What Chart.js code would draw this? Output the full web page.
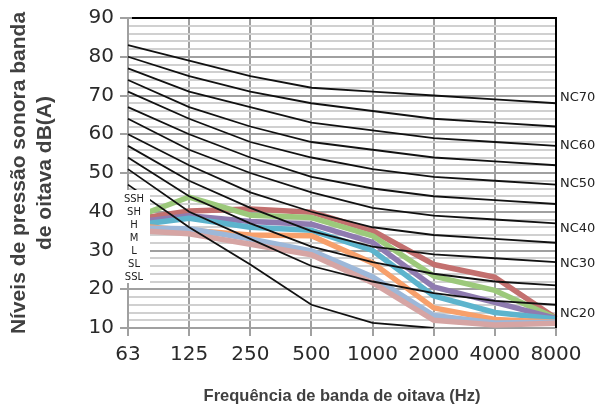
<!DOCTYPE html>
<html>
<head>
<meta charset="utf-8">
<script src="https://cdn.jsdelivr.net/npm/chart.js@4.4.1/dist/chart.umd.min.js"></script>
<style>
  html, body { margin: 0; padding: 0; background: #fff; }
  canvas { display: block; }
</style>
</head>
<body>
<canvas id="ncChart" width="608" height="412"></canvas>
<script>
// Octave band centre frequencies (Hz)
const bands = ['63', '125', '250', '500', '1000', '2000', '4000', '8000'];

// NC reference curves
const nc70 = [83, 79, 75, 72, 71, 70, 69, 68];
const nc65 = [80, 75, 71, 68, 66, 64, 63, 62];
const nc60 = [77, 71, 67, 63, 61, 59, 58, 57];
const nc55 = [74, 67, 62, 58, 56, 54, 53, 52];
const nc50 = [71, 64, 58, 54, 51, 49, 48, 47];
const nc45 = [67, 60, 54, 49, 46, 44, 43, 42];
const nc40 = [64, 56, 50, 45, 41, 39, 38, 37];
const nc35 = [60, 52, 45, 40, 36, 34, 33, 32];
const nc30 = [57, 48, 41, 35, 31, 29, 28, 27];
const nc25 = [54, 44, 37, 31, 27, 24, 22, 21];
const nc20 = [51, 40, 33, 26, 22, 19, 17, 16];
const nc15 = [47, 36, 26.4, 16, 11.3, 10, null, null];

// Measured spectra
const ssh = [37.8, 40.2, 40.7, 39.9, 35.1, 26.4, 23.1, 12.5];
const sh  = [37.9, 43.8, 39.1, 38.5, 33.8, 23.4, 19.7, 12.5];
const h   = [37.1, 39.0, 37.5, 36.8, 32.1, 20.6, 16.6, 12.5];
const m   = [36.3, 38.3, 36.0, 35.2, 30.0, 18.3, 14.0, 12.3];
const l   = [36.5, 35.2, 34.0, 33.8, 26.8, 15.2, 12.2, 11.5];
const sl  = [35.8, 35.6, 33.0, 29.9, 23.2, 13.2, 11.3, 11.5];
const ssl = [35.3, 34.3, 31.6, 28.9, 21.7, 12.0, 10.8, 11.2];

const seriesNames = ['SSH', 'SH', 'H', 'M', 'L', 'SL', 'SSL'];
const seriesData = [ssh, sh, h, m, l, sl, ssl];
const seriesColors = ['#c3706f', '#9cc97b', '#8f7bb0', '#5db4cd', '#f7a06b', '#9db8d9', '#d6a5a4'];

const ncCurves = [nc70, nc65, nc60, nc55, nc50, nc45, nc40, nc35, nc30, nc25, nc20, nc15];
const ncLabels = ['NC70', 'NC60', 'NC50', 'NC40', 'NC30', 'NC20'];
const ncLabelLevels = [69.5, 57, 47.3, 35.6, 26.5, 13.8];

const datasets = [];
ncCurves.forEach(function(curve) {
    datasets.push({
        data: curve,
        borderColor: '#111',
        borderWidth: 1.8,
        pointRadius: 0,
        order: 0
    });
});
// Later series sit on top, like in the spreadsheet
seriesData.forEach(function(values, i) {
    datasets.push({
        label: seriesNames[i],
        data: values,
        borderColor: seriesColors[i],
        borderWidth: 5.5,
        borderJoinStyle: 'round',
        pointRadius: 0,
        order: seriesData.length - i
    });
});

// Plot frame, NC labels and the series name box
const overlay = {
    id: 'overlay',
    afterDraw(chart) {
        const { ctx, chartArea: a, scales: { y } } = chart;
        ctx.save();

        ctx.strokeStyle = '#000';
        ctx.lineWidth = 2;
        ctx.beginPath();
        ctx.moveTo(a.left + 4, a.top);
        ctx.lineTo(a.right, a.top);
        ctx.lineTo(a.right, a.bottom);
        ctx.stroke();

        ctx.fillStyle = '#222';
        ctx.font = '13px "DejaVu Sans"';
        ctx.textAlign = 'left';
        ctx.textBaseline = 'middle';
        ncLabels.forEach(function(txt, i) {
            ctx.fillText(txt, a.right + 4, y.getPixelForValue(ncLabelLevels[i]));
        });

        ctx.fillStyle = '#fff';
        ctx.fillRect(a.left - 10, a.top + 172, 32, 93);
        ctx.fillStyle = '#222';
        ctx.font = '10px "DejaVu Sans"';
        ctx.textAlign = 'center';
        seriesNames.forEach(function(name, i) {
            ctx.fillText(name, a.left + 6, a.top + 181 + i * 13.1);
        });
        ctx.restore();
    }
};

new Chart(document.getElementById('ncChart').getContext('2d'), {
    type: 'line',
    data: { labels: bands, datasets: datasets },
    options: {
        responsive: false,
        animation: false,
        layout: { padding: { top: 13, right: 52, bottom: 0, left: 0 } },
        plugins: {
            legend: { display: false },
            tooltip: { enabled: false }
        },
        scales: {
            x: {
                offset: false,
                afterFit: function(scale) { scale.height = 84; },
                grid: { color: '#a0a0a0', lineWidth: 2, tickLength: 8 },
                border: { color: '#a0a0a0', width: 2 },
                ticks: {
                    color: '#2a2a2a',
                    padding: 7,
                    maxRotation: 0,
                    font: { family: 'DejaVu Sans', size: 20 }
                },
                title: {
                    display: true,
                    text: 'Frequência de banda de oitava (Hz)',
                    color: '#404040',
                    padding: { top: 0, bottom: 6 },
                    font: { family: 'Liberation Sans', size: 16.5, weight: 'bold' }
                }
            },
            y: {
                min: 10,
                max: 90,
                afterFit: function(scale) { scale.width = 128; },
                grid: {
                    color: function(ctx) { return ctx.tick && ctx.tick.value % 10 === 0 ? '#a0a0a0' : '#d0d0d0'; },
                    tickColor: function(ctx) { return ctx.tick && ctx.tick.value % 10 === 0 ? '#a0a0a0' : 'rgba(0,0,0,0)'; },
                    lineWidth: 2,
                    tickLength: 8
                },
                border: { color: '#a0a0a0', width: 2 },
                ticks: {
                    stepSize: 2,
                    autoSkip: false,
                    color: '#2a2a2a',
                    padding: 6,
                    font: { family: 'DejaVu Sans', size: 20 },
                    callback: function(v) { return v % 10 === 0 ? v : ''; }
                },
                title: {
                    display: true,
                    text: ['Níveis de pressão sonora banda', 'de oitava dB(A)'],
                    color: '#404040',
                    padding: { top: 7, bottom: 0 },
                    font: { family: 'Liberation Sans', size: 21, weight: 'bold', lineHeight: 1.2 }
                }
            }
        }
    },
    plugins: [overlay]
});
</script>
</body>
</html>
